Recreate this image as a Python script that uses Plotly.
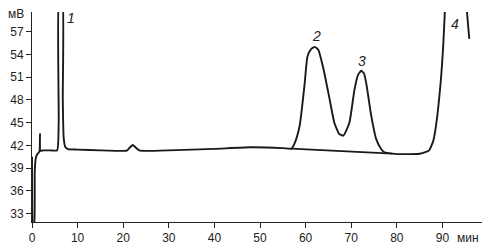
import plotly.graph_objects as go

# chromatogram signal (time, min ; signal, mV)
t = [0.0, 0.12, 0.2, 0.45, 0.6, 0.8, 1.1, 1.5, 1.65, 1.75, 1.85, 2.5, 4.0, 5.5, 5.85, 6.0,
     6.6, 6.75, 6.95, 7.3, 7.9, 10.0, 15.0, 20.0, 20.8, 21.5, 22.1, 22.7, 23.5, 25.0, 30.0, 40.0, 48.0,
     55.0, 56.9, 57.6, 58.7, 59.8, 60.4, 61.2, 62.0, 62.8, 63.8, 65.3, 66.3, 67.4, 68.3,
     69.6, 70.7, 71.5, 72.2, 72.8, 73.3, 74.4, 75.5, 76.6, 77.3, 79.0, 82.0, 85.0, 86.4,
     87.1, 88.0, 88.6, 89.6, 90.2, 90.5, 91.0, 93.0, 95.0, 95.4, 95.9]
mv = [40.5, 31.5, 31.3, 31.3, 38.5, 40.2, 40.8, 41.1, 41.2, 43.5, 41.3, 41.35, 41.35, 41.35, 45.0, 62.0,
      62.0, 48.0, 43.0, 41.8, 41.5, 41.45, 41.35, 41.28, 41.32, 41.75, 42.05, 41.75, 41.35, 41.28, 41.35, 41.55, 41.75,
      41.65, 41.58, 42.3, 44.6, 50.2, 53.7, 54.7, 55.0, 54.6, 52.4, 48.0, 45.0, 43.5, 43.3,
      45.0, 49.3, 51.3, 51.85, 51.5, 50.2, 45.9, 42.8, 41.5, 41.1, 40.92, 40.85, 40.9, 41.15,
      41.35, 42.6, 44.6, 50.2, 55.4, 59.2, 64.0, 70.0, 65.0, 59.6, 56.05]

# integration baseline under peaks 2 and 3
base_t = [56.9, 79.0]
base_mv = [41.58, 40.92]

x_ticks = [0, 10, 20, 30, 40, 50, 60, 70, 80, 90]
y_ticks = [33, 36, 39, 42, 45, 48, 51, 54, 57]

peak_labels = ["1", "2", "3", "4"]
peak_lx = [8.5, 62.4, 72.3, 92.7]
peak_ly = [58.8, 56.4, 53.1, 58.0]

line_col = "#1a1a1a"
W, H = 487, 250
ml, mr, mt, mb = 32, 5, 12, 26
pw, ph = W - ml - mr, H - mt - mb

fig = go.Figure()
fig.add_trace(go.Scatter(x=t, y=mv, mode="lines",
                         line=dict(color=line_col, width=1.9, shape="spline", smoothing=0.5),
                         hoverinfo="skip", showlegend=False))
fig.add_trace(go.Scatter(x=base_t, y=base_mv, mode="lines",
                         line=dict(color=line_col, width=1.6),
                         hoverinfo="skip", showlegend=False))

for txt, lx, ly in zip(peak_labels, peak_lx, peak_ly):
    fig.add_annotation(x=lx, y=ly, xref="x", yref="y", text=f"<i>{txt}</i>",
                       showarrow=False, font=dict(size=14, color="#222"))

# unit labels placed by pixel position, converted to paper coordinates
for txt, px, py in [("мВ", 16, 14), ("мин", 468, 240)]:
    fig.add_annotation(x=(px - ml) / pw, y=1 - (py - mt) / ph, xref="paper", yref="paper",
                       text=txt, showarrow=False, xanchor="center", yanchor="middle",
                       font=dict(size=12, color="#222"))

fig.update_layout(
    width=W, height=H,
    margin=dict(l=ml, r=mr, t=mt, b=mb),
    paper_bgcolor="white", plot_bgcolor="white",
    font=dict(family="Liberation Sans, Arial, sans-serif", size=12, color="#222"),
    xaxis=dict(range=[0, pw / 4.56], tickvals=x_ticks, ticktext=[str(v) for v in x_ticks],
               showgrid=False, zeroline=False, showline=True, linecolor="#222", linewidth=1,
               ticks="outside", ticklen=5, tickcolor="#222", tickfont=dict(size=12)),
    yaxis=dict(range=[31.9, 59.6], tickvals=y_ticks, ticktext=[str(v) for v in y_ticks],
               showgrid=False, zeroline=False, showline=True, linecolor="#222", linewidth=1,
               ticks="outside", ticklen=5, tickcolor="#222", tickfont=dict(size=12)),
)

fig.write_html("out.html")
